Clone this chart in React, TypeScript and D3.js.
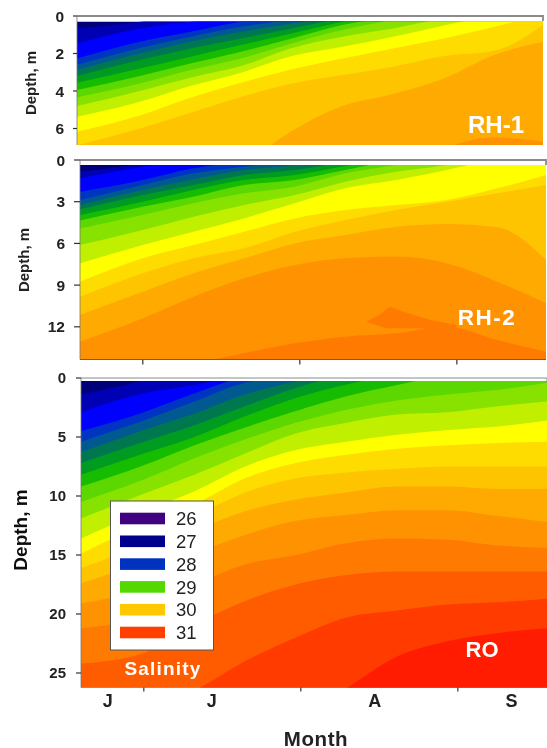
import React from "react";
import * as d3 from "d3";

// survey days, counted from 1 July
const stationDays = [-12.4, 0, 10, 20, 30, 40, 50, 60, 70, 79.6];

// salinity band colours, freshest first
const bandColors = [
  "#00007a", "#0000b4", "#0000ff", "#0034c4", "#005a90", "#007850", "#009c20",
  "#18bc00", "#5cd800", "#88e200", "#c0f000", "#ffff00", "#ffdc00", "#ffc400",
  "#ffaa00", "#ff9200", "#ff7a00", "#ff5c00", "#ff3a00", "#ff1e00",
];

// depth of each isohaline (m) at every station; negative = already gone at the surface
const rh1Isohalines = [
  [0.66, 0.3, -0.1, -1, -1, -1, -1, -1, -1, -1],
  [1.46, 0.66, 0.3, 0.04, -0.2, -1, -1, -1, -1, -1],
  [2.26, 1.37, 0.84, 0.3, 0.04, -0.5, -1, -1, -1, -1],
  [2.6, 1.7, 1.1, 0.57, 0.2, -0.1, -1, -1, -1, -1],
  [2.88, 2.0, 1.37, 0.84, 0.4, -0.05, -1, -1, -1, -1],
  [3.2, 2.35, 1.73, 1.2, 0.66, 0.12, -0.2, -1, -1, -1],
  [3.56, 2.8, 2.17, 1.55, 0.93, 0.3, -0.14, -1, -1, -1],
  [3.95, 3.2, 2.53, 1.9, 1.2, 0.48, 0.04, -0.5, -1, -1],
  [4.34, 3.6, 2.88, 2.26, 1.46, 0.75, 0.2, -0.2, -1, -1],
  [4.8, 4.0, 3.29, 2.67, 1.7, 1.1, 0.66, 0.12, -0.3, -1],
  [5.37, 4.57, 3.73, 3.02, 2.13, 1.64, 1.1, 0.5, -0.05, -0.5],
  [6.17, 5.3, 4.36, 3.56, 2.84, 2.26, 1.73, 1.2, 0.57, -0.05],
  [6.9, 6.0, 5.16, 4.32, 3.6, 3.15, 2.7, 2.13, 1.85, 0.48],
  [12, 11, 9.5, 8.0, 6.13, 4.8, 4.16, 3.33, 2.08, 1.37],
  [12, 12, 12, 12, 12, 12, 8.4, 7.06, 6.48, 6.7],
];

const rh2Isohalines = [
  [0.84, 0.24, -0.5, -1, -1, -1, -1, -1, -1, -1],
  [1.32, 0.48, 0, -0.5, -1, -1, -1, -1, -1, -1],
  [2.28, 1.44, 0.6, 0.12, -0.3, -1, -1, -1, -1, -1],
  [2.88, 1.8, 0.96, 0.48, 0, -0.5, -1, -1, -1, -1],
  [3.24, 2.16, 1.39, 0.72, 0.36, -0.24, -0.6, -1, -1, -1],
  [3.55, 2.52, 1.8, 1.08, 0.72, 0.12, -0.48, -1, -1, -1],
  [3.96, 3, 2.16, 1.44, 1.08, 0.43, -0.24, -1, -1, -1],
  [4.36, 3.36, 2.64, 1.8, 1.44, 0.72, 0, -0.48, -1, -1],
  [4.92, 3.96, 3.12, 2.4, 1.92, 0.96, 0.36, -0.36, -0.7, -1],
  [6.12, 5.04, 4.08, 3.24, 2.52, 1.56, 0.84, 0.36, -0.48, -0.7],
  [7.43, 6.12, 5.16, 4.2, 3.12, 2.04, 1.44, 0.72, -0.12, -0.7],
  [8.75, 7.07, 6.12, 5.16, 4.2, 3.6, 3.24, 2.88, 2.04, 1.08],
  [9.83, 8.15, 7.07, 6.35, 5.16, 4.32, 3.6, 3, 2.4, 1.8],
  [11.15, 9.47, 8.15, 7.07, 6, 5.4, 4.8, 4.6, 4.84, 7.19],
  [13.07, 11.39, 9.83, 8.51, 7.55, 7.07, 6.95, 7.43, 8.75, 10.31],
  [16.07, 15.35, 14.63, 13.9, 13.19, 12.71, 12.47, 12, 12.95, 13.79],
];

// closed pocket of saltier water in RH-2: [day, depth]
const rh2Pocket: [number, number][] = [
  [44.1, 11.63], [46.7, 11.15], [48.7, 10.55], [51.3, 10.9], [56.6, 11.5],
  [61.9, 11.87], [62, 12.6], [55.9, 12.35], [55.5, 12.1], [48, 12.1],
];

const roIsohalines = [
  [1.4, 0.2, -1, -2, -3, -3, -3, -3, -3, -3],
  [2.9, 1.3, 0.6, -0.3, -1, -2, -3, -3, -3, -3],
  [4.5, 2.9, 1.3, -0.1, -0.5, -1, -3, -3, -3, -3],
  [5.4, 3.6, 2.0, 0.4, -0.1, -0.5, -3, -3, -3, -3],
  [6.3, 4.4, 3.0, 1.4, 0.3, -0.5, -1, -3, -3, -3],
  [7.2, 5.4, 4.0, 2.4, 0.85, -0.3, -1, -3, -3, -3],
  [8.2, 6.4, 5.0, 3.25, 1.7, 0.56, -0.3, -1, -3, -3],
  [9.2, 7.4, 5.7, 4.2, 2.8, 1.55, 0.6, -0.3, -1, -1],
  [10.5, 8.6, 6.8, 5.2, 3.8, 2.7, 1.9, 1.4, 1.0, 0.4],
  [11.9, 9.8, 8.2, 6.4, 4.7, 3.8, 3.1, 2.9, 2.4, 2.0],
  [13.6, 11.3, 9.6, 7.5, 6.1, 5.4, 4.8, 4.4, 4.1, 3.6],
  [14.9, 12.4, 10.7, 8.5, 7.2, 6.5, 6.0, 5.7, 5.5, 5.4],
  [16.1, 14, 11.7, 9.7, 8.5, 8, 7.7, 7.5, 7.5, 7.5],
  [17.4, 15.4, 13, 11.3, 10.3, 9.7, 9.2, 9.2, 9.4, 9.4],
  [19.1, 17.7, 15, 13.3, 12.1, 11.6, 11.2, 11.2, 11.7, 12.2],
  [21.2, 20.2, 17.6, 15.8, 15, 14, 13.6, 13.7, 14.2, 14.4],
  [24.2, 23.3, 20.9, 18.9, 17.5, 16.7, 16.4, 16.4, 16.4, 16.4],
  [30.4, 28.5, 26.5, 24, 22, 20.3, 19.7, 19.2, 19, 18.7],
  [40, 38, 35, 33, 29, 26.3, 23.6, 22.3, 21.6, 21.2],
];

const rh1Ticks = [0, 2, 4, 6];
const rh2Ticks = [0, 3, 6, 9, 12];
const roTicks = [0, 5, 10, 15, 20, 25];

const monthTicks = [0, 31, 62]; // 1 Jul, 1 Aug, 1 Sep
const monthLabels = ["J", "J", "A", "S"];
const monthLabelDays = [-7.1, 13.4, 45.6, 72.6];

const legendValues = [26, 27, 28, 29, 30, 31];
const legendColors = ["#40007f", "#00008c", "#0030c0", "#55d800", "#ffc800", "#ff4000"];

const FONT = "'Liberation Sans', Arial, sans-serif";

function Panel(props: any) {
  const { id, left, right, zero, bottom, top, pxPerM, lines, ticks, tickSize, labelRight, fontSize } = props;
  const x = d3.scaleLinear().domain([-12.4, 79.6]).range([left, right]);
  const y = d3.scaleLinear().domain([0, (bottom - zero) / pxPerM]).range([zero, bottom]);

  const area = d3
    .area<number>()
    .x((_, i) => x(stationDays[i]))
    .y0(bottom + 5)
    .y1((d) => y(d))
    .curve(d3.curveMonotoneX);

  return (
    <g>
      <clipPath id={id}>
        <rect x={left} y={top} width={right - left} height={bottom - top} />
      </clipPath>
      <g clipPath={`url(#${id})`}>
        <rect x={left} y={top} width={right - left} height={bottom - top} fill={bandColors[0]} />
        {lines.map((line: number[], i: number) => (
          <path key={i} d={area(line) as string} fill={bandColors[i + 1]} />
        ))}
        {props.children && props.children(x, y)}
      </g>
      <path
        d={`M${left},${zero}H${right}v5`}
        fill="none"
        stroke="#8a8a8a"
        strokeWidth={props.frameWidth}
      />
      <line x1={left} x2={left} y1={zero} y2={bottom} stroke="#777" strokeWidth={0.8} />
      {ticks.map((t: number) => (
        <g key={t} transform={`translate(0,${y(t)})`}>
          <line x1={left - tickSize} x2={left} stroke="#333" strokeWidth={1.2} />
          <text
            x={labelRight}
            dy="0.36em"
            textAnchor="end"
            fontFamily={FONT}
            fontWeight="bold"
            fontSize={fontSize}
            fill="#222"
          >
            {t}
          </text>
        </g>
      ))}
      {props.showMonths &&
        monthTicks.map((d) => (
          <line
            key={d}
            x1={x(d)}
            x2={x(d)}
            y1={bottom}
            y2={bottom + props.monthTick}
            stroke="#333"
            strokeWidth={1.2}
          />
        ))}
      {props.baseline && (
        <line x1={left} x2={right} y1={bottom} y2={bottom} stroke="#8a5a20" strokeWidth={1} />
      )}
    </g>
  );
}

export default function App() {
  const pocketLine = (x: any, y: any) =>
    d3
      .line<[number, number]>()
      .x((d) => x(d[0]))
      .y((d) => y(d[1]))
      .curve(d3.curveLinearClosed)(rh2Pocket) as string;

  const xMonths = d3.scaleLinear().domain([-12.4, 79.6]).range([81, 547]);
  const legendY = d3.scalePoint<number>().domain(legendValues).range([518.5, 632.5]);

  return (
    <svg
      width={547}
      height={748}
      style={{ position: "absolute", left: 0, top: 0, background: "#fff" }}
    >
      <defs>
        <filter id="soft" x="-2%" y="-2%" width="104%" height="104%">
          <feGaussianBlur stdDeviation="0.45" />
        </filter>
      </defs>
      <g filter="url(#soft)">
        <Panel
          id="rh1"
          left={77}
          right={543}
          zero={16}
          bottom={145}
          top={21.5}
          pxPerM={18.75}
          lines={rh1Isohalines}
          ticks={rh1Ticks}
          tickSize={4}
          labelRight={64}
          fontSize={15.5}
          frameWidth={1.8}
        />
        <Panel
          id="rh2"
          left={80}
          right={546}
          zero={160}
          bottom={359.5}
          top={165}
          pxPerM={13.9}
          lines={rh2Isohalines}
          ticks={rh2Ticks}
          tickSize={6}
          labelRight={65}
          fontSize={15.5}
          frameWidth={1.8}
          showMonths
          monthTick={5}
          baseline
        >
          {(x: any, y: any) => <path d={pocketLine(x, y)} fill={bandColors[16]} />}
        </Panel>
        <Panel
          id="ro"
          left={81}
          right={547}
          zero={378}
          bottom={687.5}
          top={381}
          pxPerM={11.8}
          lines={roIsohalines}
          ticks={roTicks}
          tickSize={5}
          labelRight={66}
          fontSize={15}
          frameWidth={1}
          showMonths
          monthTick={4}
        />

        {/* legend */}
        <rect x={110.5} y={501} width={103} height={149} fill="#fff" stroke="#555" strokeWidth={1} />
        {legendValues.map((v, i) => (
          <g key={v} transform={`translate(0,${legendY(v)})`}>
            <rect x={120} y={-5.8} width={45} height={11.6} fill={legendColors[i]} />
            <text x={176} dy="0.36em" fontFamily={FONT} fontSize={18.5} fill="#222">
              {v}
            </text>
          </g>
        ))}

        {/* depth titles */}
        <text
          transform="translate(36,83) rotate(-90)"
          textAnchor="middle"
          fontFamily={FONT}
          fontWeight="bold"
          fontSize={15}
          fill="#222"
        >
          Depth, m
        </text>
        <text
          transform="translate(29,260) rotate(-90)"
          textAnchor="middle"
          fontFamily={FONT}
          fontWeight="bold"
          fontSize={15}
          fill="#222"
        >
          Depth, m
        </text>
        <text
          transform="translate(27,530) rotate(-90)"
          textAnchor="middle"
          fontFamily={FONT}
          fontWeight="bold"
          fontSize={19}
          fill="#111"
        >
          Depth, m
        </text>

        {monthLabels.map((m, i) => (
          <text
            key={i}
            x={xMonths(monthLabelDays[i])}
            y={706.5}
            textAnchor="middle"
            fontFamily={FONT}
            fontWeight="bold"
            fontSize={18}
            fill="#222"
          >
            {m}
          </text>
        ))}
        <text
          x={316}
          y={745.5}
          textAnchor="middle"
          fontFamily={FONT}
          fontWeight="bold"
          fontSize={20.5}
          letterSpacing={0.6}
          fill="#222"
        >
          Month
        </text>

        {/* station names */}
        <text x={496} y={133} textAnchor="middle" fontFamily={FONT} fontWeight="bold" fontSize={24} fill="#fff">
          RH-1
        </text>
        <text
          x={487}
          y={325}
          textAnchor="middle"
          fontFamily={FONT}
          fontWeight="bold"
          fontSize={22.5}
          letterSpacing={1.5}
          fill="#fff"
        >
          RH-2
        </text>
        <text x={482} y={657} textAnchor="middle" fontFamily={FONT} fontWeight="bold" fontSize={22} fill="#fff">
          RO
        </text>
        <text
          x={163}
          y={675}
          textAnchor="middle"
          fontFamily={FONT}
          fontWeight="bold"
          fontSize={19}
          letterSpacing={1.2}
          fill="#fff"
        >
          Salinity
        </text>
      </g>
    </svg>
  );
}
